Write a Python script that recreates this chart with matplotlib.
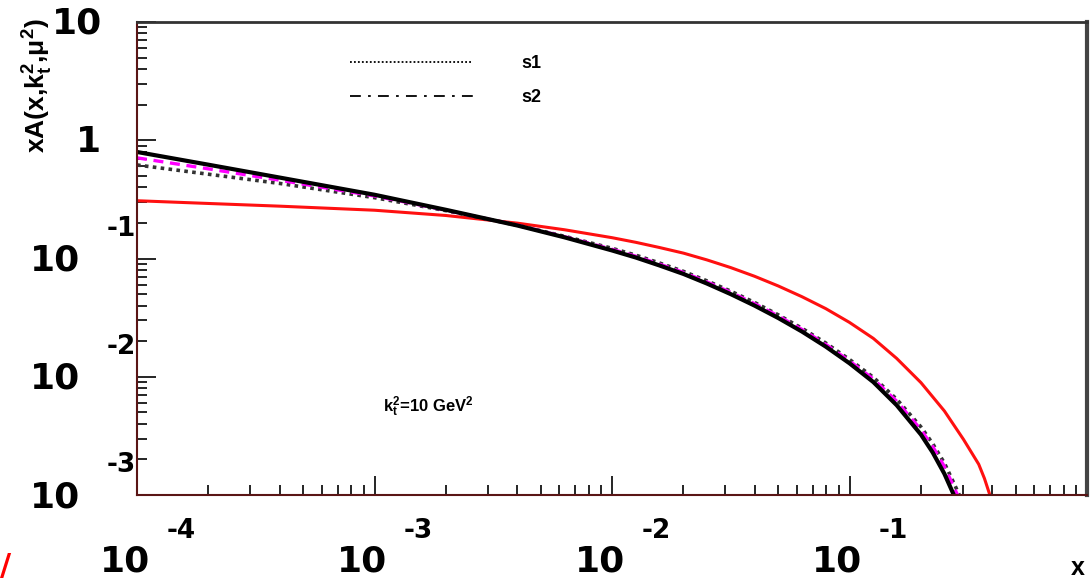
import numpy as np
import matplotlib
matplotlib.use("Agg")
import matplotlib.pyplot as plt
from matplotlib.lines import Line2D

plt.rcParams['mathtext.fontset'] = 'custom'
plt.rcParams['mathtext.rm'] = 'Liberation Sans:bold'
plt.rcParams['mathtext.it'] = 'Liberation Sans:bold'
plt.rcParams['mathtext.bf'] = 'Liberation Sans:bold'

# curve values (log-log)
x_main = [1e-4, 2e-4, 4e-4, 1e-3, 2e-3, 4e-3, 6.31e-3, 0.01, 0.0126, 0.0158,
          0.02, 0.0251, 0.0316, 0.0398, 0.0501, 0.0631, 0.0794, 0.1, 0.126,
          0.158, 0.2, 0.224, 0.251, 0.275]
y_solid = [0.796, 0.621, 0.483, 0.346, 0.258, 0.190, 0.151, 0.117, 0.1019, 0.0875,
           0.0740, 0.0614, 0.0500, 0.0400, 0.0314, 0.0241, 0.0180, 0.0130, 0.00902,
           0.00575, 0.00324, 0.00229, 0.00151, 0.001]

x_dash = x_main + [0.285]
y_dash = [0.710, 0.573, 0.459, 0.338, 0.256, 0.191, 0.153, 0.1197, 0.1045, 0.0899,
          0.0762, 0.0634, 0.0518, 0.0415, 0.0327, 0.0251, 0.0188, 0.0136, 0.00957,
          0.00621, 0.00356, 0.00257, 0.00174, 0.00117, 0.001]

x_s1 = x_main + [0.29]
y_s1 = [0.618, 0.516, 0.431, 0.327, 0.254, 0.191, 0.154, 0.122, 0.1067, 0.0918,
        0.0778, 0.0647, 0.0530, 0.0425, 0.0334, 0.0257, 0.0193, 0.0140, 0.00989,
        0.00646, 0.00376, 0.00272, 0.00186, 0.00126, 0.001]

x_red = [1e-4, 2e-4, 4e-4, 1e-3, 2e-3, 4e-3, 6.31e-3, 0.01, 0.0126, 0.0158,
         0.02, 0.0251, 0.0316, 0.0398, 0.0501, 0.0631, 0.0794, 0.1, 0.126,
         0.158, 0.2, 0.251, 0.302, 0.35, 0.37, 0.39]
y_red = [0.308, 0.292, 0.277, 0.256, 0.231, 0.199, 0.175, 0.150, 0.137, 0.124,
         0.111, 0.0973, 0.0838, 0.0708, 0.0586, 0.0475, 0.0377, 0.0288, 0.0211,
         0.01429, 0.00891, 0.00513, 0.00295, 0.00182, 0.00138, 0.001]

x_major = [1e-4, 1e-3, 1e-2, 1e-1]
x_exp = ['-4', '-3', '-2', '-1']
y_major = [1e-1, 1e-2, 1e-3]
y_exp = ['-1', '-2', '-3']

fig = plt.figure(figsize=(10.92, 5.84), dpi=100)
ax = fig.add_axes([137/1092, 1-495/584, 950/1092, 473/584])

ax.plot(x_red, y_red, color='#ff1010', lw=2.2)
ax.plot(x_s1, y_s1, color='#333333', lw=2.6, ls=(0, (1, 1.2)), label='s1')
ax.plot(x_dash, y_dash, color='#ff00ff', lw=2.4, ls=(0, (3, 2)))
ax.plot(x_main, y_solid, color='black', lw=3)

ax.set_xscale('log')
ax.set_yscale('log')
ax.set_xlim(1e-4, 1)
ax.set_ylim(1e-3, 10)

ax.tick_params(which='both', direction='in', top=False, right=False,
               labelbottom=False, labelleft=False, width=1.2, color='black')
ax.tick_params(which='major', length=14)
ax.tick_params(which='minor', length=7)

for s in ['left', 'bottom']:
    ax.spines[s].set_color('#5a1515')
    ax.spines[s].set_linewidth(1.5)
ax.spines['top'].set_color('#333333')
ax.spines['top'].set_linewidth(2)
ax.spines['right'].set_color('#444444')
ax.spines['right'].set_linewidth(3)

# ROOT-style tick labels
big = dict(fontsize=26, fontweight='bold', family='DejaVu Sans')
small = dict(fontsize=19, fontweight='bold', family='DejaVu Sans')
for xv, e in zip(x_major, x_exp):
    ax.annotate('10', xy=(xv, 0), xycoords=('data', 'axes fraction'),
                xytext=(-12, -66), textcoords='offset pixels',
                ha='center', va='center', **big)
    ax.annotate(e, xy=(xv, 0), xycoords=('data', 'axes fraction'),
                xytext=(44, -36), textcoords='offset pixels',
                ha='center', va='center', **small)

ax.annotate('10', xy=(0, 10), xycoords=('axes fraction', 'data'),
            xytext=(-60, -2), textcoords='offset pixels', ha='center', va='center', **big)
ax.annotate('1', xy=(0, 1), xycoords=('axes fraction', 'data'),
            xytext=(-49, -2), textcoords='offset pixels', ha='center', va='center', **big)
for yv, e in zip(y_major, y_exp):
    ax.annotate('10', xy=(0, yv), xycoords=('axes fraction', 'data'),
                xytext=(-82, -2), textcoords='offset pixels',
                ha='center', va='center', **big)
    ax.annotate(e, xy=(0, yv), xycoords=('axes fraction', 'data'),
                xytext=(-16, 30), textcoords='offset pixels',
                ha='center', va='center', **small)

fig.text(38/1092, 1-18/584, r'xA(x,k$_{t}^{2}$,$\mu^{2}$)', rotation=90,
         ha='center', va='top', fontsize=19, fontweight='bold', family='Liberation Sans')
fig.text(1078/1092, 1-568/584, 'x', ha='center', va='center',
         fontsize=18, fontweight='bold', family='Liberation Sans')

ax.text(383/1092, 1-407/584, r'k$_{t}^{2}$=10 GeV$^{2}$', transform=fig.transFigure,
        ha='left', va='center', fontsize=12, fontweight='bold', family='Liberation Sans')

h2 = Line2D([], [], color='black', lw=1.3, ls=(0, (6, 4, 1.5, 4)))
handles, labels = ax.get_legend_handles_labels()
leg = ax.legend(handles + [h2], labels + ['s2'], loc='upper left',
                bbox_to_anchor=(350/1092, 1-55/584), bbox_transform=fig.transFigure,
                frameon=False, handlelength=6.8, handletextpad=2.7, labelspacing=0.95,
                borderpad=0, borderaxespad=0,
                prop={'family': 'Liberation Sans', 'weight': 'bold', 'size': 13})
leg.get_lines()[0].set_linewidth(1.3)
leg.get_lines()[0].set_color('black')

# stray red stroke at the lower left of the reference crop
fig.text(6/1092, 1-566/584, '/', color='red', fontsize=22, fontweight='bold', ha='center', va='center')

fig.savefig('out.png', dpi=100)
